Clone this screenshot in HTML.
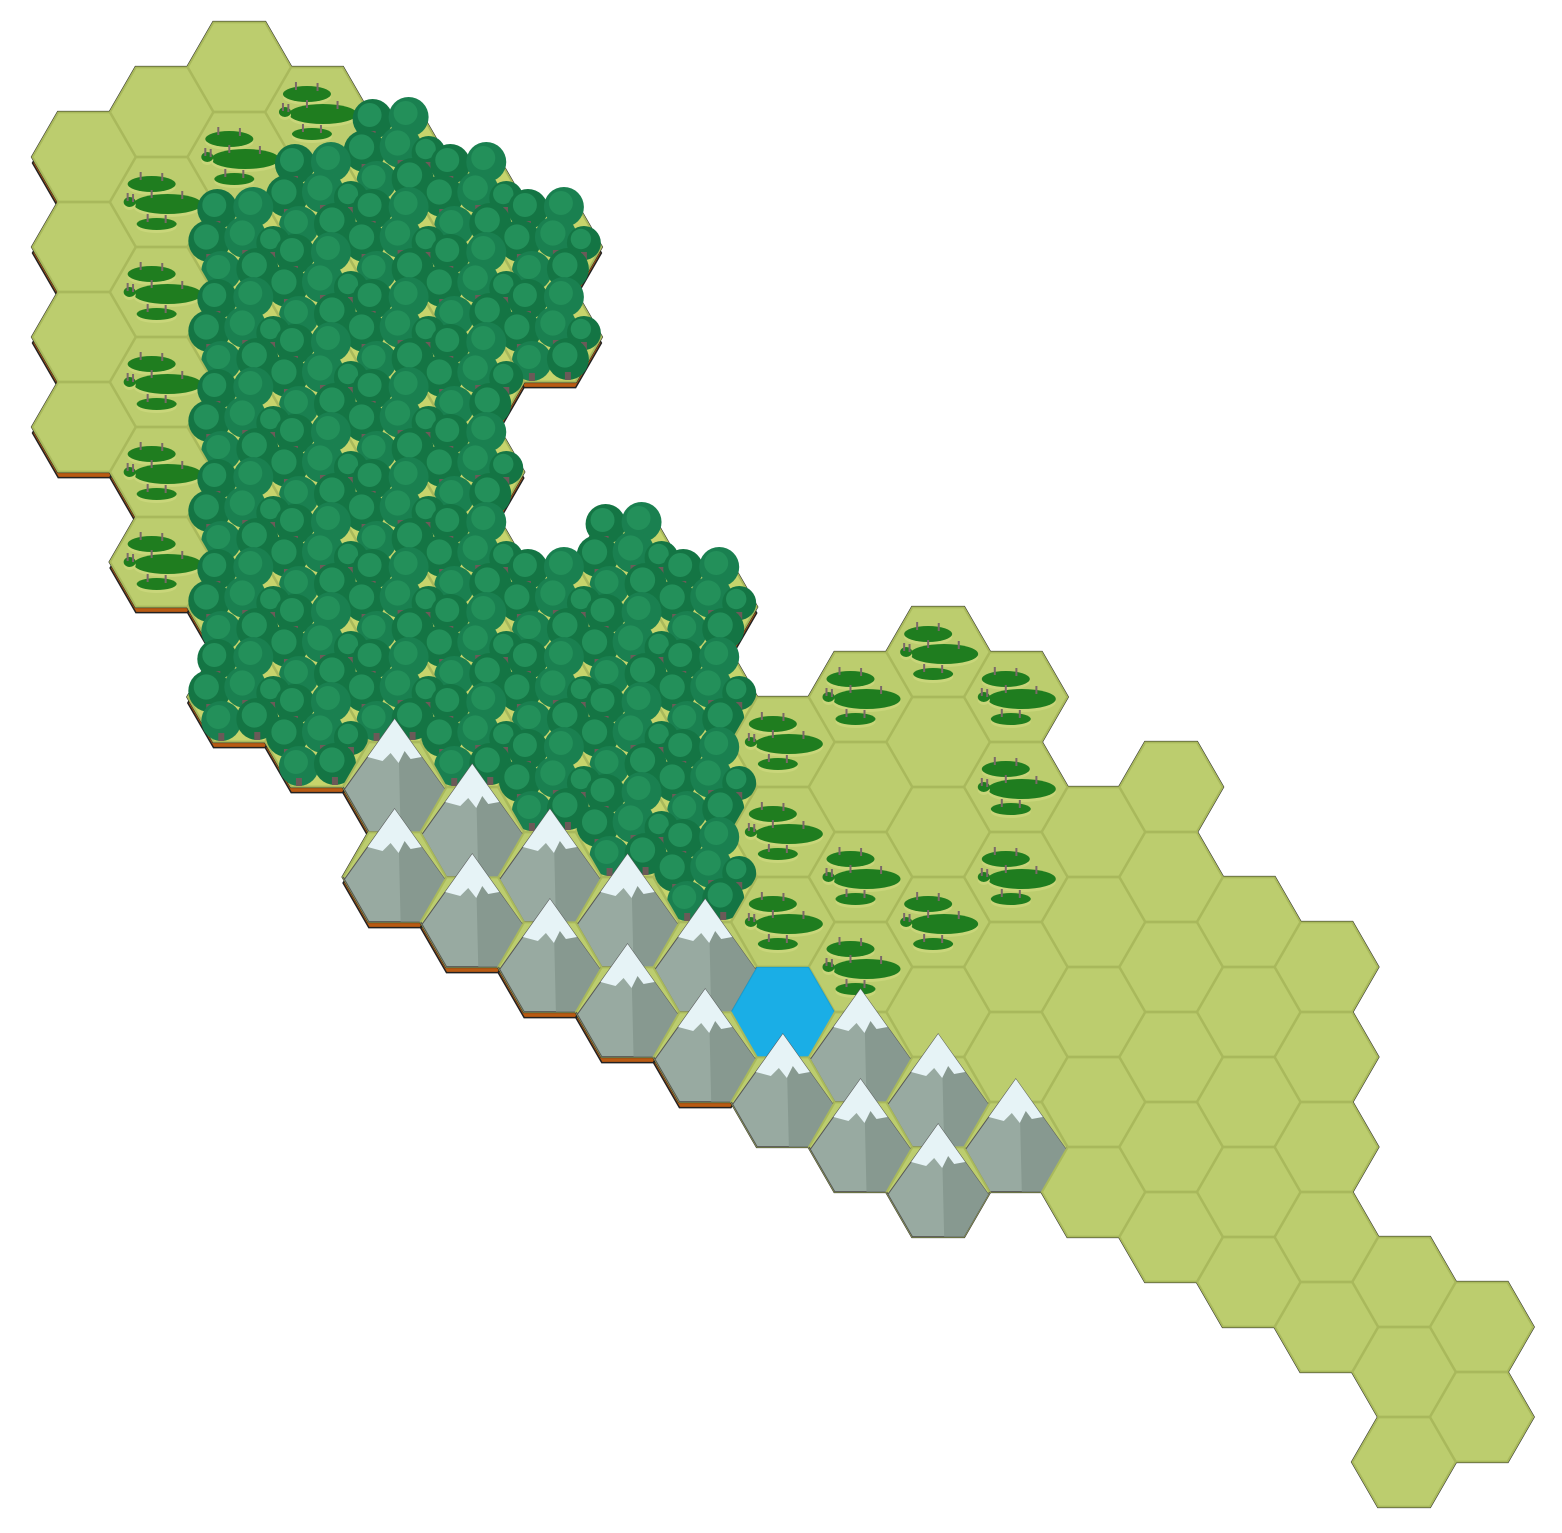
<!DOCTYPE html>
<html><head><meta charset="utf-8"><style>
html,body{margin:0;padding:0;background:#fff;width:1562px;height:1533px;overflow:hidden}
svg{display:block}
</style></head><body>
<svg id="map" width="1562" height="1533" viewBox="0 0 1562 1533" xmlns="http://www.w3.org/2000/svg">
<g id="shadows"></g>
<g id="tiles"></g>
</svg>
<script>
// terrain data: per column, list of [type+count : first centre y]; G=grass S=scrub F=forest M=mountain W=water
const colTerrain = [
  "G4:157",
  "G1:112,S5:202",
  "G1:67,S1:157,F6:247",
  "S1:112,F7:202",
  "F7:157,M2:787",
  "F7:202,M2:832",
  "F2:247,F3:607,M2:877",
  "F4:562,M2:922",
  "F4:607,M2:967",
  "S3:742,W1:1012,M1:1102",
  "S1:697,G1:787,S2:877,M2:1057",
  "S1:652,G2:742,S1:922,G1:1012,M2:1102",
  "S3:697,G2:967,M1:1147",
  "G5:832",
  "G6:787",
  "G5:922",
  "G5:967",
  "G3:1282",
  "G2:1327"
];
const shadowCols = [0,1,2,3,4,5,6,7,8];

const R = 51.5, H = 44.6, X0 = 84, DX = 77.65;
const NS = "http://www.w3.org/2000/svg";
const tilesG = document.getElementById('tiles');
const shadowG = document.getElementById('shadows');

function hexPts(cx, cy) {
  return [[cx-R,cy],[cx-R/2,cy-H],[cx+R/2,cy-H],[cx+R,cy],[cx+R/2,cy+H],[cx-R/2,cy+H]].map(p=>p.join(',')).join(' ');
}
function mk(tag, attrs, parent) {
  const e = document.createElementNS(NS, tag);
  for (const k in attrs) e.setAttribute(k, attrs[k]);
  parent.appendChild(e);
  return e;
}

const tiles = [];
colTerrain.forEach((spec, c) => {
  spec.split(',').forEach(part => {
    const [tn, y0] = part.split(':');
    const t = tn[0], n = parseInt(tn.slice(1));
    for (let i = 0; i < n; i++) tiles.push({c, t, cx: X0 + DX * c, cy: parseFloat(y0) + 90 * i});
  });
});

tiles.filter(d => shadowCols.includes(d.c)).forEach(d => {
  const p = mk('polygon', {points: hexPts(d.cx, d.cy + 6), fill: '#b85a12', stroke: '#222', 'stroke-width': 1.5}, shadowG);
  
  
});
tiles.forEach(d => {
  const p = mk('polygon', {points: hexPts(d.cx, d.cy), fill: 'none', stroke: '#222', 'stroke-width': 3}, shadowG);
  
  
});

tiles.sort((a, b) => a.cy - b.cy || a.c - b.c);
tiles.forEach(d => {
  const g = mk('g', {}, tilesG);
  
  
  const {cx, cy, t} = d;
  if (t === 'W') {
    mk('polygon', {points: hexPts(cx, cy), fill: '#1aaee6', stroke: '#17a0d4', 'stroke-width': 1}, g);
    return;
  }
  mk('polygon', {points: hexPts(cx, cy), fill: t === 'F' ? '#c7d46c' : '#bccd6e', stroke: '#a9b95c', 'stroke-width': 2}, g);
  if (t === 'S') {
    [[-10,-18,24,8],[6,2,34,10],[-32,0,6,5],[-5,22,20,6]].forEach(b => {
      mk('ellipse', {cx: cx + b[0], cy: cy + b[1] + 3, rx: b[2], ry: b[3], fill: '#c9d67a'}, g);
      mk('ellipse', {cx: cx + b[0], cy: cy + b[1], rx: b[2], ry: b[3], fill: '#1f7d1f'}, g);
      mk('rect', {x: cx + b[0] - b[2] * 0.5, y: cy + b[1] - b[3] - 4, width: 2, height: 8, fill: '#7a6868'}, g);
      mk('rect', {x: cx + b[0] + b[2] * 0.4, y: cy + b[1] - b[3] - 3, width: 2, height: 8, fill: '#7a6868'}, g);
    });
  } else if (t === 'F') {
    [[-22,-38,20],[14,-40,20],[-30,-6,21],[6,-10,21],[34,-4,17],[-18,24,20],[18,22,21]].forEach((b, i) => {
      mk('circle', {cx: cx + b[0], cy: cy + b[1], r: b[2], fill: i % 2 ? '#1a8050' : '#147544'}, g);
      mk('circle', {cx: cx + b[0] - 3, cy: cy + b[1] - 4, r: b[2] * 0.6, fill: '#23905a'}, g);
      mk('rect', {x: cx + b[0] - 3, y: cy + b[1] + b[2] - 8, width: 6, height: 8, fill: '#6b5a58'}, g);
    });
  } else if (t === 'M') {
    const body = `M${cx},${cy-68} L${cx+50},${cy+2} L${cx+R},${cy} L${cx+R/2},${cy+H} L${cx-R/2},${cy+H} L${cx-R},${cy} L${cx-50},${cy+2} Z`;
    mk('path', {d: body, fill: '#98aaa1', stroke: '#555', 'stroke-width': 1}, g);
    mk('path', {d: `M${cx},${cy-68} L${cx+50},${cy+2} L${cx+R},${cy} L${cx+R/2},${cy+H} L${cx+6},${cy+H} L${cx+4},${cy-40} Z`, fill: '#879990'}, g);
    mk('path', {d: `M${cx},${cy-68} L${cx+27},${cy-30} L${cx+16},${cy-28} L${cx+10},${cy-36} L${cx+4},${cy-24} L${cx-4},${cy-34} L${cx-12},${cy-26} L${cx-27},${cy-30} Z`, fill: '#e6f3f6'}, g);
  }
});
</script>
</body></html>
